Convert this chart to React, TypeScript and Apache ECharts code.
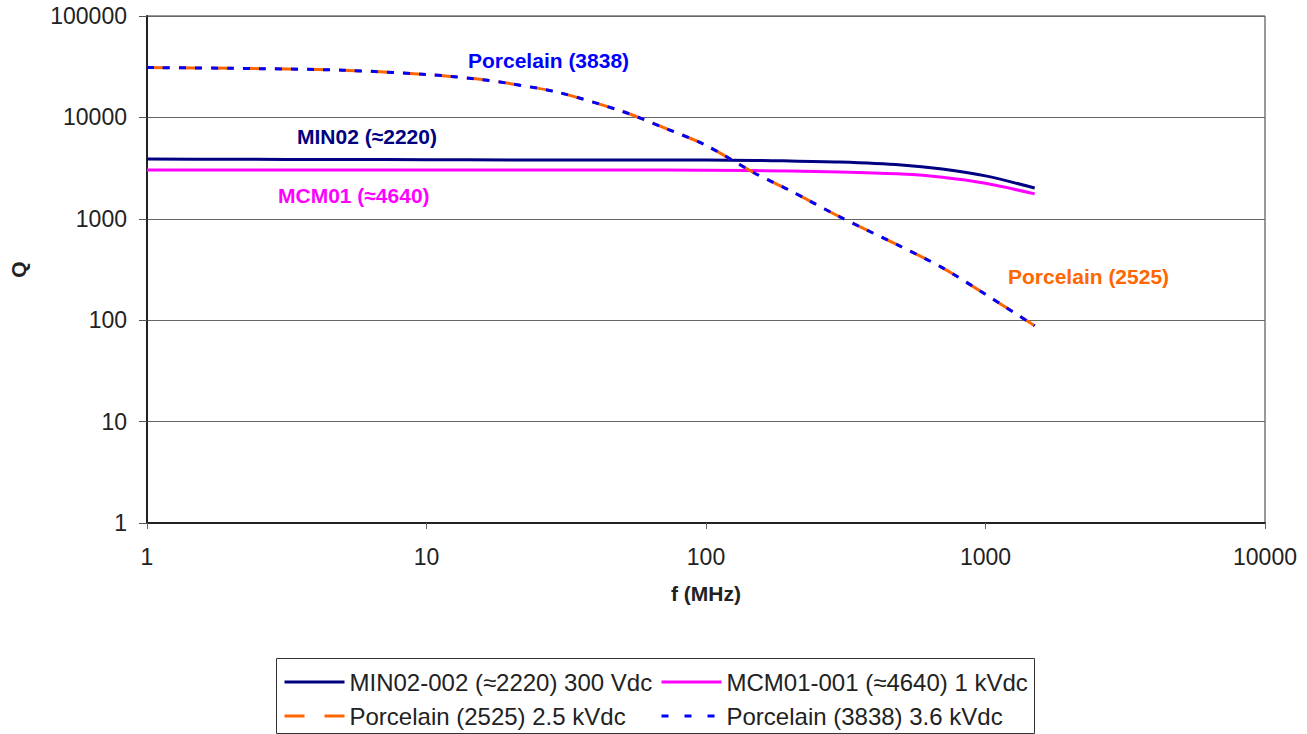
import React, { useEffect, useRef } from "react";
import * as echarts from "echarts";

const freqMin02 = [1, 2, 5, 10, 20, 50, 100, 200, 300, 500, 700, 1000, 1500];
const qMin02 = [3880, 3860, 3850, 3830, 3800, 3800, 3800, 3720, 3630, 3400, 3100, 2650, 2010];

const freqMcm01 = [1, 2, 5, 10, 20, 50, 100, 200, 300, 500, 700, 1000, 1500];
const qMcm01 = [3030, 3030, 3030, 3030, 3030, 3030, 3020, 2960, 2890, 2760, 2570, 2240, 1760];

const freqPorc = [1, 2, 5, 10, 15, 20, 30, 50, 70, 100, 150, 200, 300, 500, 700, 1000, 1500];
const qPorc2525 = [31000, 30500, 29200, 26500, 24000, 21500, 17500, 11500, 8000, 5300, 2800, 1900, 1050, 530, 330, 180, 88];
const qPorc3838 = [31000, 30500, 29200, 26500, 24000, 21500, 17500, 11500, 8000, 5300, 2800, 1900, 1050, 530, 330, 180, 88];

const seriesNames = [
  "MIN02-002 (≈2220) 300 Vdc",
  "MCM01-001 (≈4640) 1 kVdc",
  "Porcelain (2525) 2.5 kVdc",
  "Porcelain (3838) 3.6 kVdc",
];

const FONT = "Liberation Sans, Arial, sans-serif";

const pairs = (xs: number[], ys: number[]) => xs.map((x, i) => [x, ys[i]]);

export default function App() {
  const ref = useRef<HTMLDivElement>(null);
  useEffect(() => {
    if (!ref.current) return;
    const chart = echarts.init(ref.current, null, { renderer: "svg" });
    const legendText = { fontFamily: FONT, fontSize: 24, color: "#222" };
    const legendCommon = {
      orient: "horizontal" as const,
      itemWidth: 60,
      itemHeight: 14,
      itemGap: 4,
      textStyle: legendText,
      padding: 0,
      itemStyle: { opacity: 0 },
    };
    chart.setOption({
      animation: false,
      backgroundColor: "#fff",
      grid: { left: 145, right: 42, top: 16, bottom: 211, show: true, borderColor: "#333", borderWidth: 1, backgroundColor: "transparent" },
      xAxis: {
        type: "log",
        logBase: 10,
        min: 1,
        max: 10000,
        name: "f (MHz)",
        nameLocation: "middle",
        nameGap: 60,
        nameTextStyle: { fontFamily: FONT, fontSize: 21, fontWeight: "bold", color: "#222" },
        axisLine: { lineStyle: { color: "#222", width: 2 } },
        axisTick: { show: true, length: 6, lineStyle: { color: "#666" } },
        axisLabel: { fontFamily: FONT, fontSize: 23, color: "#222", margin: 22, formatter: (v: number) => String(Math.round(v)) },
        splitLine: { show: false },
        minorTick: { show: false },
      },
      yAxis: {
        type: "log",
        logBase: 10,
        min: 1,
        max: 100000,
        name: "Q",
        nameLocation: "middle",
        nameGap: 118,
        nameRotate: 90,
        nameTextStyle: { fontFamily: FONT, fontSize: 21, fontWeight: "bold", color: "#222" },
        axisLine: { lineStyle: { color: "#222", width: 2 } },
        axisTick: { show: true, length: 8, inside: false, lineStyle: { color: "#555" } },
        axisLabel: { fontFamily: FONT, fontSize: 23, color: "#222", margin: 20, formatter: (v: number) => String(Math.round(v)) },
        splitLine: { show: true, lineStyle: { color: "#666", width: 1 } },
      },
      legend: [
        { ...legendCommon, data: [seriesNames[0]], left: 283, top: 670, lineStyle: { width: 3, type: "solid" } },
        { ...legendCommon, data: [seriesNames[1]], left: 660, top: 670, lineStyle: { width: 3, type: "solid" } },
        { ...legendCommon, data: [seriesNames[2]], left: 283, top: 704, lineStyle: { width: 3, type: [20, 20] } },
        { ...legendCommon, data: [seriesNames[3]], left: 660, top: 704, lineStyle: { width: 3, type: [7, 16] } },
      ],
      graphic: [
        { type: "rect", shape: { x: 276.5, y: 658.5, width: 758, height: 75 }, style: { fill: "none", stroke: "#333", lineWidth: 1 }, silent: true },
        { type: "text", x: 468, y: 60, style: { text: "Porcelain (3838)", fill: "#0000FF", font: `bold 21px ${FONT}`, textVerticalAlign: "middle" } },
        { type: "text", x: 297, y: 136, style: { text: "MIN02 (≈2220)", fill: "#000080", font: `bold 21px ${FONT}`, textVerticalAlign: "middle" } },
        { type: "text", x: 278, y: 195, style: { text: "MCM01 (≈4640)", fill: "#FF00FF", font: `bold 21px ${FONT}`, textVerticalAlign: "middle" } },
        { type: "text", x: 1008, y: 276, style: { text: "Porcelain (2525)", fill: "#FF6600", font: `bold 21px ${FONT}`, textVerticalAlign: "middle" } },
      ],
      series: [
        {
          name: seriesNames[0],
          type: "line",
          data: pairs(freqMin02, qMin02),
          symbol: "none",
          smooth: 0.3,
          lineStyle: { color: "#000080", width: 3 },
          itemStyle: { color: "#000080" },
        },
        {
          name: seriesNames[1],
          type: "line",
          data: pairs(freqMcm01, qMcm01),
          symbol: "none",
          smooth: 0.3,
          lineStyle: { color: "#FF00FF", width: 3 },
          itemStyle: { color: "#FF00FF" },
        },
        {
          name: seriesNames[2],
          type: "line",
          data: pairs(freqPorc, qPorc2525),
          symbol: "none",
          smooth: 0.3,
          lineStyle: { color: "#FF6600", width: 3, type: [22, 10] },
          itemStyle: { color: "#FF6600" },
        },
        {
          name: seriesNames[3],
          type: "line",
          data: pairs(freqPorc, qPorc3838),
          symbol: "none",
          smooth: 0.3,
          lineStyle: { color: "#0000FF", width: 3, type: [7, 9] },
          itemStyle: { color: "#0000FF" },
        },
      ],
    });
    return () => chart.dispose();
  }, []);
  return <div ref={ref} style={{ width: 1307, height: 734, position: "absolute", left: 0, top: 0 }} />;
}
